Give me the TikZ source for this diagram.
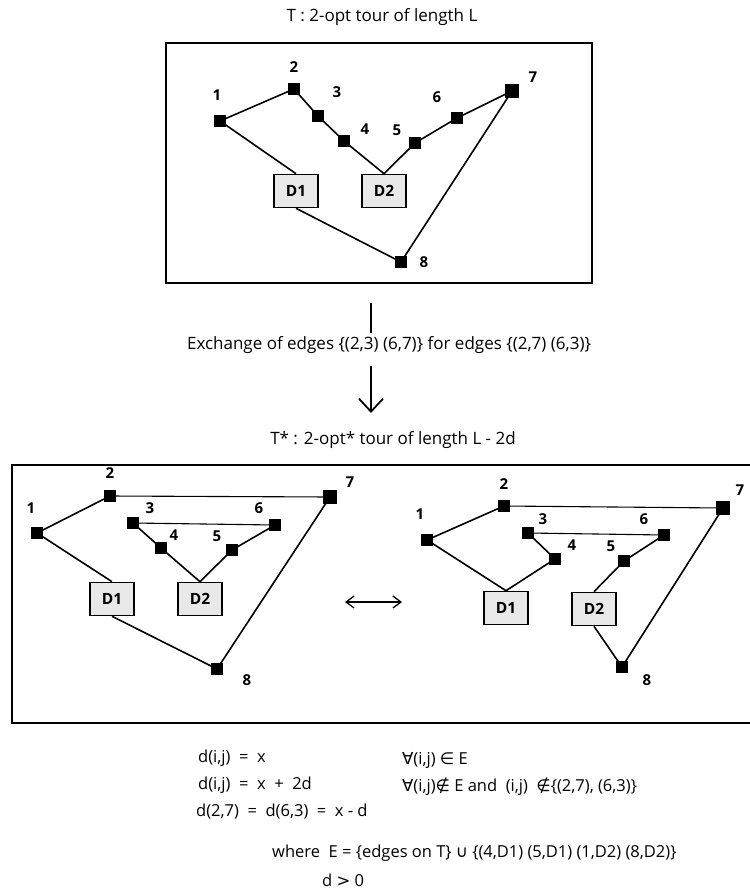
\documentclass[tikz,border=0pt]{standalone}
\usepackage{fontspec}
\setmainfont{Open Sans}
\newfontfamily\symf{DejaVu Sans}
\usetikzlibrary{arrows.meta}
\begin{document}
\begin{tikzpicture}[x=1pt,y=-1pt,
  sq/.style={rectangle,fill=black,minimum size=12pt,inner sep=0pt},
  bigsq/.style={minimum size=14pt},
  dbox/.style={rectangle,draw,line width=1.6pt,fill=black!9,minimum width=44pt,minimum height=33pt,inner sep=0pt,font=\bfseries\fontsize{15.5}{17}\selectfont},
  lab/.style={font=\bfseries\fontsize{15}{17}\selectfont,inner sep=0pt},
  edge/.style={line width=1.6pt},
  thinedge/.style={line width=1.1pt},
  frame/.style={line width=1.6pt},
  txt/.style={font=\fontsize{17}{19}\selectfont,inner sep=0pt},
  ftxt/.style={font=\fontsize{16.5}{19}\selectfont,inner sep=0pt,anchor=west},
]
\useasboundingbox (0,0) rectangle (750,895);

% ---------- titles ----------
\node[txt] (t1) at (382,17) {T : 2-opt tour of length L};
\node[txt] (ex) at (389,345) {Exchange of edges \{(2,3) (6,7)\} for edges \{(2,7) (6,3)\}};
\node[txt] (t2) at (393,440) {T* : 2-opt* tour of length L - 2d};

% ---------- exchange arrow ----------
\coordinate (v1) at (371,303);
\coordinate (v2) at (371,333);
\coordinate (v3) at (371,366);
\coordinate (v4) at (371,413);
\draw[line width=2pt] (v1) -- (v2);
\draw[line width=1.8pt,-{Straight Barb[length=13pt,width=24pt,line width=1.8pt]}] (v3) -- (v4);

% ---------- top frame ----------
\draw[frame] (166,43) rectangle (592,283);
\node[sq] (a1) at (220,121) {};
\node[sq] (a2) at (294,89) {};
\node[sq] (a3) at (318,116) {};
\node[sq] (a4) at (344,141) {};
\node[sq] (a5) at (415,143) {};
\node[sq] (a6) at (457,118) {};
\node[sq,bigsq] (a7) at (512,91) {};
\node[sq] (a8) at (401,262) {};
\node[dbox] (aD1) at (296,191) {D1};
\node[dbox] (aD2) at (384,191) {D2};
\node[lab] (la1) at (217,95) {1};
\node[lab] (la2) at (294,67) {2};
\node[lab] (la3) at (337,92) {3};
\node[lab] (la4) at (365,129) {4};
\node[lab] (la5) at (397,130) {5};
\node[lab] (la6) at (437,97) {6};
\node[lab] (la7) at (533,77) {7};
\node[lab] (la8) at (424,262) {8};
\draw[edge] (a1.center) -- (a2.center) -- (a3.center) -- (a4.center) -- (aD2.north);
\draw[edge] (aD2.north) -- (a5.center) -- (a6.center) -- (a7.center) -- (a8.center);
\draw[edge] (a8.center) -- (aD1.south);
\draw[edge] (aD1.north) -- (a1.center);

% ---------- bottom frame ----------
\draw[frame] (12,465) rectangle (770,723);

% left graph
\node[sq] (b1) at (37,533) {};
\node[sq] (b2) at (110,496) {};
\node[sq] (b3) at (133,523) {};
\node[sq] (b4) at (161,548) {};
\node[sq] (b5) at (232,550) {};
\node[sq] (b6) at (275,525) {};
\node[sq,bigsq] (b7) at (330,497) {};
\node[sq] (b8) at (217,669) {};
\node[dbox] (bD1) at (112,599) {D1};
\node[dbox] (bD2) at (200,599) {D2};
\node[lab] (lb1) at (31,508) {1};
\node[lab] (lb2) at (110,473) {2};
\node[lab] (lb3) at (150,508) {3};
\node[lab] (lb4) at (174,535) {4};
\node[lab] (lb5) at (217,536) {5};
\node[lab] (lb6) at (259,508) {6};
\node[lab] (lb7) at (350,482) {7};
\node[lab] (lb8) at (247,680) {8};
\draw[edge] (b1.center) -- (b2.center);
\draw[thinedge] (b2.center) -- (b7.center);
\draw[thinedge] (b3.center) -- (b6.center);
\draw[edge] (b3.center) -- (b4.center) -- (bD2.north) -- (b5.center) -- (b6.center);
\draw[edge] (b7.center) -- (b8.center) -- (bD1.south);
\draw[edge] (bD1.north) -- (b1.center);

% double arrow
\coordinate (da) at (345,602);
\coordinate (db) at (402,602);
\draw[line width=1.3pt,{Straight Barb[length=8pt,width=12pt,line width=1.3pt]}-{Straight Barb[length=8pt,width=12pt,line width=1.3pt]}] (da) -- (db);

% right graph
\node[sq] (c1) at (427,540) {};
\node[sq] (c2) at (504,506) {};
\node[sq] (c3) at (528,533) {};
\node[sq] (c4) at (555,559) {};
\node[sq] (c5) at (624,561) {};
\node[sq] (c6) at (664,535) {};
\node[sq,bigsq] (c7) at (723,508) {};
\node[sq] (c8) at (622,667) {};
\node[dbox] (cD1) at (506,608) {D1};
\node[dbox] (cD2) at (594,609) {D2};
\node[lab] (lc1) at (420,514) {1};
\node[lab] (lc2) at (504,484) {2};
\node[lab] (lc3) at (543,519) {3};
\node[lab] (lc4) at (572,545) {4};
\node[lab] (lc5) at (611,546) {5};
\node[lab] (lc6) at (644,519) {6};
\node[lab] (lc7) at (740,490) {7};
\node[lab] (lc8) at (647,680) {8};
\draw[edge] (cD1.north) -- (c1.center) -- (c2.center);
\draw[thinedge] (c2.center) -- (c7.center);
\draw[thinedge] (c3.center) -- (c6.center);
\draw[edge] (c3.center) -- (c4.center) -- (cD1.north);
\draw[edge] (cD2.north) -- (c5.center) -- (c6.center);
\draw[edge] (cD2.south) -- (c8.center) -- (c7.center);

% ---------- formulas ----------
\node[ftxt] (f1) at (198,758) {d(i,j) \ = \ x};
\node[ftxt] (f2) at (198,785) {d(i,j) \ = \ x \ + \ 2d};
\node[ftxt] (f3) at (196,812) {d(2,7) \ = \ d(6,3) \ = \ x - d};
\node[ftxt] (g1) at (402,760) {{\symf ∀}(i,j) {\symf ∈} E};
\node[ftxt] (g2) at (402,787) {{\symf ∀}(i,j){\symf ∉} E and \ (i,j) \ {\symf ∉}\{(2,7), (6,3)\}};
\node[ftxt] (w1) at (272,853) {where \ E = \{edges on T\} {\symf ∪} \{(4,D1) (5,D1) (1,D2) (8,D2)\}};
\node[ftxt] (w2) at (322,880) {d {\symf >} 0};
\end{tikzpicture}
\end{document}
